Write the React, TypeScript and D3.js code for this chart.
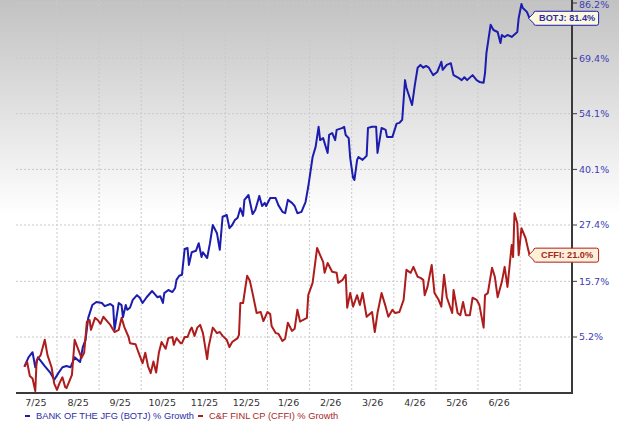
import React from 'react';
import * as d3 from 'd3';

type Point = [string, number];

// % growth since 2025-07-08
const BOTJ: Point[] = [
  ['2025-07-08', 0.0], ['2025-07-11', 1.6], ['2025-07-14', 2.5], ['2025-07-16', -0.1],
  ['2025-07-18', 1.6], ['2025-07-23', 0.1], ['2025-07-27', -1.0], ['2025-07-30', -2.2],
  ['2025-08-02', -1.1], ['2025-08-05', -0.1], ['2025-08-08', 0.1], ['2025-08-11', -0.1],
  ['2025-08-14', 1.6], ['2025-08-18', 0.8], ['2025-08-20', 3.4], ['2025-08-22', 4.7],
  ['2025-08-24', 8.7], ['2025-08-27', 11.1], ['2025-08-30', 11.7], ['2025-09-03', 11.5],
  ['2025-09-05', 10.9], ['2025-09-09', 11.3], ['2025-09-11', 10.9], ['2025-09-12', 6.5],
  ['2025-09-15', 11.5], ['2025-09-17', 11.1], ['2025-09-18', 8.8], ['2025-09-20', 11.1],
  ['2025-09-21', 10.2], ['2025-09-23', 10.6], ['2025-09-25', 12.1], ['2025-09-28', 13.0],
  ['2025-09-30', 12.5], ['2025-10-02', 11.5], ['2025-10-05', 12.6], ['2025-10-09', 13.8],
  ['2025-10-11', 13.2], ['2025-10-13', 12.6], ['2025-10-15', 12.8], ['2025-10-17', 11.5],
  ['2025-10-18', 13.4], ['2025-10-21', 14.0], ['2025-10-24', 13.6], ['2025-10-26', 14.4],
  ['2025-10-27', 16.0], ['2025-10-29', 16.8], ['2025-10-31', 17.0], ['2025-11-02', 22.3],
  ['2025-11-04', 22.5], ['2025-11-05', 19.0], ['2025-11-07', 21.6], ['2025-11-10', 21.9],
  ['2025-11-12', 23.5], ['2025-11-14', 20.6], ['2025-11-15', 21.6], ['2025-11-18', 20.4],
  ['2025-11-20', 23.5], ['2025-11-22', 27.4], ['2025-11-25', 25.6], ['2025-11-27', 22.1],
  ['2025-11-29', 29.2], ['2025-12-02', 29.6], ['2025-12-04', 26.7], ['2025-12-06', 27.4],
  ['2025-12-08', 28.5], ['2025-12-10', 29.0], ['2025-12-12', 31.1], ['2025-12-14', 29.4],
  ['2025-12-15', 33.0], ['2025-12-18', 34.1], ['2025-12-21', 29.8], ['2025-12-23', 30.7],
  ['2025-12-26', 33.9], ['2025-12-28', 31.6], ['2025-12-30', 32.3], ['2025-12-31', 31.6],
  ['2026-01-03', 33.4], ['2026-01-07', 33.4], ['2026-01-09', 31.8], ['2026-01-12', 30.3],
  ['2026-01-14', 30.0], ['2026-01-16', 33.0], ['2026-01-19', 32.3], ['2026-01-21', 31.6],
  ['2026-01-23', 30.0], ['2026-01-26', 30.3], ['2026-01-29', 32.5], ['2026-01-31', 36.0],
  ['2026-02-03', 43.1], ['2026-02-05', 45.6], ['2026-02-07', 50.7], ['2026-02-08', 47.3],
  ['2026-02-10', 47.8], ['2026-02-13', 44.1], ['2026-02-14', 48.6], ['2026-02-16', 49.1],
  ['2026-02-18', 47.3], ['2026-02-19', 49.9], ['2026-02-23', 50.4], ['2026-02-24', 50.7],
  ['2026-02-25', 48.6], ['2026-02-27', 47.8], ['2026-02-28', 42.9], ['2026-03-02', 38.1],
  ['2026-03-03', 37.6], ['2026-03-05', 42.4], ['2026-03-06', 43.1], ['2026-03-09', 42.4],
  ['2026-03-12', 43.4], ['2026-03-13', 50.4], ['2026-03-16', 50.7], ['2026-03-19', 50.7],
  ['2026-03-20', 44.1], ['2026-03-23', 50.4], ['2026-03-26', 49.9], ['2026-03-27', 48.1],
  ['2026-03-29', 48.1], ['2026-03-31', 48.1], ['2026-04-03', 51.5], ['2026-04-05', 51.7],
  ['2026-04-07', 52.5], ['2026-04-09', 63.2], ['2026-04-10', 61.1], ['2026-04-14', 56.4],
  ['2026-04-16', 61.9], ['2026-04-18', 66.7], ['2026-04-20', 67.5], ['2026-04-22', 66.7],
  ['2026-04-24', 67.2], ['2026-04-26', 66.7], ['2026-04-29', 64.6], ['2026-05-02', 65.5],
  ['2026-05-05', 68.4], ['2026-05-06', 66.1], ['2026-05-09', 67.5], ['2026-05-12', 68.0],
  ['2026-05-14', 64.6], ['2026-05-17', 64.0], ['2026-05-20', 63.2], ['2026-05-22', 64.0],
  ['2026-05-24', 63.2], ['2026-05-28', 64.6], ['2026-05-31', 63.2], ['2026-06-02', 62.7],
  ['2026-06-05', 62.5], ['2026-06-06', 65.2], ['2026-06-07', 70.9], ['2026-06-10', 79.4],
  ['2026-06-12', 77.8], ['2026-06-15', 77.2], ['2026-06-17', 73.9], ['2026-06-18', 76.3],
  ['2026-06-20', 75.7], ['2026-06-22', 76.3], ['2026-06-25', 75.7], ['2026-06-29', 77.2],
  ['2026-06-30', 81.5], ['2026-07-02', 85.9], ['2026-07-03', 84.6], ['2026-07-06', 83.4],
  ['2026-07-08', 81.4],
];

const CFFI: Point[] = [
  ['2025-07-08', 0.0], ['2025-07-10', 0.8], ['2025-07-12', -1.6], ['2025-07-14', -2.0],
  ['2025-07-16', -4.1], ['2025-07-17', 1.1], ['2025-07-20', 2.0], ['2025-07-23', 4.7],
  ['2025-07-25', 2.0], ['2025-07-28', -0.1], ['2025-07-30', -2.9], ['2025-08-01', -3.9],
  ['2025-08-03', -2.7], ['2025-08-05', -1.8], ['2025-08-07', -3.4], ['2025-08-08', -3.6],
  ['2025-08-12', -1.4], ['2025-08-14', 4.7], ['2025-08-16', 3.4], ['2025-08-19', 1.5],
  ['2025-08-21', 2.4], ['2025-08-23', 8.0], ['2025-08-25', 8.3], ['2025-08-26', 6.5],
  ['2025-08-29', 8.7], ['2025-08-31', 8.3], ['2025-09-02', 7.6], ['2025-09-04', 8.9],
  ['2025-09-07', 8.0], ['2025-09-09', 7.4], ['2025-09-11', 6.5], ['2025-09-12', 6.1],
  ['2025-09-15', 6.5], ['2025-09-17', 8.7], ['2025-09-19', 7.0], ['2025-09-22', 5.2],
  ['2025-09-23', 4.1], ['2025-09-27', 3.9], ['2025-09-29', 2.5], ['2025-10-02', 0.6],
  ['2025-10-04', 2.4], ['2025-10-06', 0.1], ['2025-10-08', -1.1], ['2025-10-10', 0.9],
  ['2025-10-12', -1.0], ['2025-10-14', 2.4], ['2025-10-16', 4.3], ['2025-10-19', 3.1],
  ['2025-10-21', 5.0], ['2025-10-24', 5.2], ['2025-10-25', 3.8], ['2025-10-27', 5.0],
  ['2025-10-30', 4.1], ['2025-10-31', 4.1], ['2025-11-02', 5.2], ['2025-11-04', 5.2],
  ['2025-11-06', 6.5], ['2025-11-07', 6.9], ['2025-11-09', 5.4], ['2025-11-11', 6.9],
  ['2025-11-13', 7.4], ['2025-11-15', 5.9], ['2025-11-18', 1.3], ['2025-11-19', 3.4],
  ['2025-11-22', 6.9], ['2025-11-25', 5.9], ['2025-11-27', 6.1], ['2025-11-29', 5.4],
  ['2025-12-02', 4.7], ['2025-12-04', 3.4], ['2025-12-06', 4.3], ['2025-12-10', 5.0],
  ['2025-12-11', 5.6], ['2025-12-12', 11.5], ['2025-12-14', 11.5], ['2025-12-17', 16.8],
  ['2025-12-19', 15.8], ['2025-12-21', 13.4], ['2025-12-24', 9.6], ['2025-12-27', 9.8],
  ['2025-12-29', 8.1], ['2026-01-01', 9.8], ['2026-01-03', 9.4], ['2026-01-04', 7.2],
  ['2026-01-07', 5.9], ['2026-01-09', 5.8], ['2026-01-12', 4.5], ['2026-01-14', 4.9],
  ['2026-01-16', 7.8], ['2026-01-19', 6.3], ['2026-01-21', 6.7], ['2026-01-23', 10.2],
  ['2026-01-25', 8.0], ['2026-01-27', 8.3], ['2026-01-30', 8.7], ['2026-01-31', 13.0],
  ['2026-02-03', 15.4], ['2026-02-06', 22.5], ['2026-02-08', 21.0], ['2026-02-10', 19.6],
  ['2026-02-11', 17.4], ['2026-02-13', 19.4], ['2026-02-16', 17.6], ['2026-02-19', 17.4],
  ['2026-02-20', 15.4], ['2026-02-23', 16.0], ['2026-02-25', 17.0], ['2026-02-26', 10.6],
  ['2026-02-28', 13.4], ['2026-03-02', 10.8], ['2026-03-05', 13.0], ['2026-03-07', 11.1],
  ['2026-03-09', 13.4], ['2026-03-12', 8.9], ['2026-03-16', 9.8], ['2026-03-18', 6.1],
  ['2026-03-20', 9.6], ['2026-03-23', 13.4], ['2026-03-26', 10.8], ['2026-03-28', 8.9],
  ['2026-03-31', 10.2], ['2026-04-02', 9.6], ['2026-04-05', 9.8], ['2026-04-08', 12.1],
  ['2026-04-10', 18.0], ['2026-04-13', 17.4], ['2026-04-15', 18.6], ['2026-04-18', 16.6],
  ['2026-04-20', 16.4], ['2026-04-22', 16.0], ['2026-04-23', 13.0], ['2026-04-25', 14.6],
  ['2026-04-28', 19.0], ['2026-04-30', 13.4], ['2026-05-03', 12.1], ['2026-05-05', 10.8],
  ['2026-05-07', 17.0], ['2026-05-09', 12.6], ['2026-05-13', 9.6], ['2026-05-14', 14.0],
  ['2026-05-17', 9.6], ['2026-05-19', 9.2], ['2026-05-21', 11.7], ['2026-05-23', 9.2],
  ['2026-05-26', 9.2], ['2026-05-28', 12.5], ['2026-05-31', 12.1], ['2026-06-02', 11.1],
  ['2026-06-05', 6.9], ['2026-06-06', 13.0], ['2026-06-08', 13.4], ['2026-06-11', 18.4],
  ['2026-06-13', 16.6], ['2026-06-15', 12.6], ['2026-06-18', 15.6], ['2026-06-20', 18.6],
  ['2026-06-22', 14.6], ['2026-06-25', 23.1], ['2026-06-26', 20.6], ['2026-06-27', 30.0],
  ['2026-06-29', 27.8], ['2026-06-30', 21.0], ['2026-07-02', 26.7], ['2026-07-05', 24.6],
  ['2026-07-07', 22.1], ['2026-07-08', 21.0],
];

const Y_TICKS = [5.2, 15.7, 27.4, 40.1, 54.1, 69.4, 86.2];

const MONTH_STARTS = [
  '2025-07-01', '2025-08-01', '2025-09-01', '2025-10-01', '2025-11-01', '2025-12-01', '2026-01-01',
  '2026-02-01', '2026-03-01', '2026-04-01', '2026-05-01', '2026-06-01', '2026-07-01', '2026-08-01',
];
const MONTH_LABELS = ['7/25', '8/25', '9/25', '10/25', '11/25', '12/25', '1/26', '2/26', '3/26', '4/26', '5/26', '6/26'];

const SERIES = [
  { key: 'BOTJ', legend: 'BANK OF THE JFG (BOTJ) % Growth', data: BOTJ, line: '#1c1cae', text: '#2d2da8', fill: '#fdf9df' },
  { key: 'CFFI', legend: 'C&F FINL CP (CFFI) % Growth', data: CFFI, line: '#ae1c1c', text: '#a82626', fill: '#fcf0d8' },
];

const W = 619;
const H = 426;
const PLOT_LEFT = 16;
const PLOT_RIGHT = 572;
const PLOT_BOTTOM = 393;
const MONTH_W = 42.1;
const FIRST_MONTH_X = 14.9;

const parse = d3.timeParse('%Y-%m-%d');

export default function App() {
  const months = MONTH_STARTS.map(d => parse(d) as Date);
  // months are evenly spaced on this chart, so use a piecewise time scale
  const x = d3.scaleTime<number>()
    .domain(months)
    .range(months.map((_, i) => FIRST_MONTH_X + i * MONTH_W));

  const y = d3.scaleLog()
    .domain([1 + Y_TICKS[0] / 100, 1 + Y_TICKS[Y_TICKS.length - 1] / 100])
    .range([337, 3]);

  const line = d3.line<Point>()
    .x(d => x(parse(d[0]) as Date))
    .y(d => y(1 + d[1] / 100));

  const sans = '"Liberation Sans", Arial, sans-serif';
  const verdana = '"DejaVu Sans", Verdana, sans-serif';

  return (
    <svg width={W} height={H} style={{ position: 'absolute', left: 0, top: 0 }}>
      <defs>
        <linearGradient id="bg" gradientUnits="userSpaceOnUse" x1={0} y1={0} x2={0} y2={215}>
          <stop offset="0" stopColor="#c2c2c2" />
          <stop offset="1" stopColor="#ffffff" />
        </linearGradient>
      </defs>
      <rect width={W} height={H} fill="url(#bg)" />

      {/* grid */}
      {Y_TICKS.map(t => (
        <line key={`h${t}`} x1={PLOT_LEFT} x2={PLOT_RIGHT} y1={y(1 + t / 100)} y2={y(1 + t / 100)}
          stroke="#c9c9c9" strokeWidth={1} strokeDasharray="2,2" />
      ))}
      {months.slice(1, 13).map((m, i) => (
        <line key={`v${i}`} x1={x(m)} x2={x(m)} y1={0} y2={PLOT_BOTTOM}
          stroke="#c9c9c9" strokeWidth={1} strokeDasharray="2,2" />
      ))}

      {/* series */}
      {SERIES.map(s => (
        <path key={s.key} d={line(s.data) || ''} fill="none" stroke={s.line} strokeWidth={2} strokeLinejoin="round" />
      ))}

      {/* axes */}
      <line x1={PLOT_LEFT} x2={PLOT_RIGHT + 1} y1={PLOT_BOTTOM} y2={PLOT_BOTTOM} stroke="#3a3a3a" strokeWidth={2} />
      <line x1={PLOT_RIGHT} x2={PLOT_RIGHT} y1={0} y2={PLOT_BOTTOM} stroke="#3a3a3a" strokeWidth={2} />

      {Y_TICKS.map(t => (
        <g key={`yt${t}`} transform={`translate(${PLOT_RIGHT},${y(1 + t / 100)})`}>
          <line x1={1} x2={5} stroke="#3a3a3a" strokeWidth={1} />
          <text x={7} dy={Math.max(3.4, 8 - y(1 + t / 100))} fontFamily={verdana} fontSize={9.5} fill="#3d3db6">{`${t.toFixed(1)}%`}</text>
        </g>
      ))}

      {MONTH_LABELS.map((lab, i) => (
        <text key={lab} x={(x(months[i]) + x(months[i + 1])) / 2} y={406} textAnchor="middle"
          fontFamily={verdana} fontSize={9.5} fill="#333">{lab}</text>
      ))}

      {/* end-of-line callouts */}
      {SERIES.map(s => {
        const last = s.data[s.data.length - 1];
        const px = x(parse(last[0]) as Date);
        const py = y(1 + last[1] / 100);
        const bx = px + 4;
        const bw = 65;
        const top = py - 7;
        const h = 14;
        return (
          <g key={`c${s.key}`}>
            <path d={`M${px - 1},${py} L${bx},${top + 2} Q${bx},${top} ${bx + 2},${top} H${bx + bw - 2} Q${bx + bw},${top} ${bx + bw},${top + 2} V${top + h - 2} Q${bx + bw},${top + h} ${bx + bw - 2},${top + h} H${bx + 2} Q${bx},${top + h} ${bx},${top + h - 2} Z`}
              fill={s.fill} stroke={s.line} strokeWidth={1} strokeLinejoin="round" />
            <text x={bx + bw / 2 + 1} y={py} dy="0.35em" textAnchor="middle" fontFamily={sans}
              fontSize={9.2} fontWeight="bold" fill={s.text}>{`${s.key}: ${last[1].toFixed(1)}%`}</text>
          </g>
        );
      })}

      {/* legend */}
      {SERIES.map((s, i) => {
        const lx = i === 0 ? 25 : 198;
        return (
          <g key={`l${s.key}`} transform={`translate(${lx},416)`}>
            <line x1={0} x2={5} stroke={s.line} strokeWidth={2} />
            <text x={11} dy="0.35em" fontFamily={sans} fontSize={9.3} fill={s.text}>{s.legend}</text>
          </g>
        );
      })}
    </svg>
  );
}
